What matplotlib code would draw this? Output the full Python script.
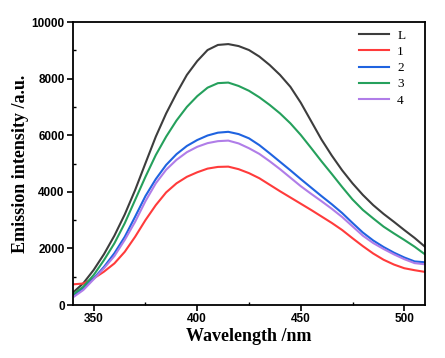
import numpy as np
import matplotlib.pyplot as plt
from matplotlib.ticker import MultipleLocator

# wavelength (nm), every 5 nm
wl = np.arange(340, 511, 5)

L  = [440, 770, 1240, 1800, 2450, 3200, 4060, 5010, 5950, 6770, 7480, 8130, 8620, 9010,
      9190, 9220, 9150, 9010, 8780, 8480, 8130, 7710, 7150, 6500, 5850, 5280, 4760, 4300,
      3890, 3530, 3220, 2940, 2650, 2370, 2060]
c1 = [730, 760, 940, 1180, 1470, 1880, 2410, 3000, 3530, 3980, 4300, 4530, 4690, 4820,
      4880, 4890, 4800, 4660, 4480, 4250, 4020, 3800, 3580, 3360, 3130, 2900, 2650, 2360,
      2080, 1820, 1600, 1430, 1300, 1230, 1170]
c2 = [340, 590, 940, 1350, 1830, 2410, 3120, 3850, 4450, 4950, 5330, 5620, 5830, 5990,
      6090, 6120, 6040, 5890, 5650, 5360, 5060, 4760, 4450, 4150, 3850, 3560, 3250, 2900,
      2560, 2280, 2050, 1850, 1680, 1540, 1510]
c3 = [370, 650, 1060, 1590, 2180, 2890, 3710, 4530, 5300, 5950, 6520, 7000, 7380, 7680,
      7840, 7860, 7740, 7570, 7340, 7070, 6770, 6420, 6010, 5550, 5080, 4630, 4170, 3730,
      3360, 3060, 2770, 2530, 2300, 2060, 1790]
c4 = [270, 530, 910, 1300, 1730, 2300, 2940, 3670, 4300, 4780, 5130, 5400, 5590, 5720,
      5790, 5810, 5710, 5540, 5340, 5080, 4800, 4500, 4200, 3930, 3670, 3400, 3110, 2780,
      2450, 2190, 1980, 1790, 1620, 1480, 1440]

names = ["L", "1", "2", "3", "4"]
colors = ["#3d3d3d", "#ff3b3b", "#1f63e0", "#25a05c", "#b07de8"]

fig = plt.figure(figsize=(4.45, 3.58), dpi=100)
ax = fig.add_axes([0.164, 0.148, 0.791, 0.7905])

for name, ys, col in zip(names, [L, c1, c2, c3, c4], colors):
    ax.plot(wl, ys, color=col, lw=1.5, label=name)

ax.set_xlim(340, 510)
ax.set_ylim(0, 10000)
ax.xaxis.set_major_locator(MultipleLocator(50))
ax.xaxis.set_minor_locator(MultipleLocator(25))
ax.yaxis.set_major_locator(MultipleLocator(2000))
ax.yaxis.set_minor_locator(MultipleLocator(1000))
ax.tick_params(which='major', direction='out', length=4, width=1.2, pad=2)
ax.tick_params(which='minor', direction='in', length=2.5, width=1)
for lab in ax.get_xticklabels() + ax.get_yticklabels():
    lab.set_fontfamily('Liberation Sans')
    lab.set_fontweight('bold')
    lab.set_fontsize(8.5)
for sp in ax.spines.values():
    sp.set_linewidth(1.3)

ax.set_xlabel("Wavelength /nm", family='Liberation Serif', weight='bold', fontsize=13, labelpad=2)
ax.set_ylabel("Emission intensity /a.u.", family='Liberation Serif', weight='bold', fontsize=13, labelpad=2)

ax.legend(loc='upper left', bbox_to_anchor=(0.8125, 0.973), frameon=False,
          prop={'family': 'Liberation Serif', 'size': 9.5},
          handlelength=2.3, labelspacing=0.3, borderpad=0, borderaxespad=0, handletextpad=0.6)

fig.savefig("out.png", dpi=100)
